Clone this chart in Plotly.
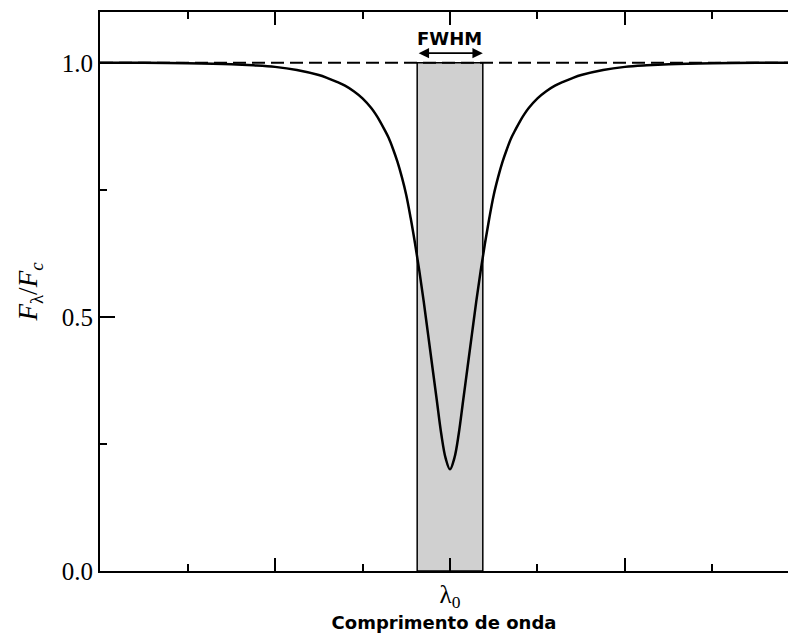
import plotly.graph_objects as go

# Line profile (wavelength in tick units, lambda0 = 0)
wl_half = [0, 0.05, 0.1, 0.15, 0.2, 0.25, 0.3, 0.35, 0.4, 0.45, 0.5, 0.55, 0.6, 0.65, 0.7,
           0.75, 0.8, 0.85, 0.9, 1.0, 1.1, 1.2, 1.3, 1.4, 1.5, 1.75, 2.0, 2.25, 2.5, 3.0, 3.5, 4.0]
flux_half = [0.200, 0.222, 0.27, 0.335, 0.40, 0.465, 0.53, 0.59, 0.645, 0.695, 0.74, 0.775, 0.805,
             0.83, 0.852, 0.869, 0.885, 0.899, 0.911, 0.93, 0.944, 0.955, 0.963, 0.97, 0.976,
             0.986, 0.992, 0.995, 0.997, 0.999, 1.0, 1.0]
# the profile is symmetric about lambda0
wavelength = [-w for w in wl_half[:0:-1]] + wl_half
flux = flux_half[:0:-1] + flux_half

continuum = 1.0
fwhm_left = -0.375
fwhm_right = 0.375
x_range = [-4, 3.863]
y_range = [0, 1.1]

x_major = [-2, 0, 2]
x_major_text = ["", "λ<sub>0</sub>", ""]
x_minor = [-3, -1, 1, 3]
y_major = [0, 0.5, 1.0]
y_major_text = ["0.0", "0.5", "1.0"]
y_minor = [0.25, 0.75]

fig = go.Figure()

# shaded FWHM box
fig.add_trace(go.Scatter(
    x=[fwhm_left, fwhm_right, fwhm_right, fwhm_left, fwhm_left],
    y=[0, 0, continuum, continuum, 0],
    fill="toself", fillcolor="#d0d0d0",
    line=dict(color="black", width=1.5),
    mode="lines", hoverinfo="skip", showlegend=False))

# continuum dashed line
fig.add_trace(go.Scatter(
    x=x_range, y=[continuum, continuum], mode="lines",
    line=dict(color="black", width=2, dash="13px,6px"),
    showlegend=False))

# profile
fig.add_trace(go.Scatter(
    x=wavelength, y=flux, mode="lines",
    line=dict(color="black", width=2.5, shape="spline", smoothing=1.0),
    showlegend=False))

# FWHM arrow + label
fig.add_annotation(x=fwhm_right, y=continuum + 0.019, ax=fwhm_left, ay=continuum + 0.019,
                   xref="x", yref="y", axref="x", ayref="y", text="",
                   showarrow=True, arrowhead=2, arrowside="end+start",
                   arrowsize=1.3, arrowwidth=1.6, arrowcolor="black", standoff=0, startstandoff=0)
fig.add_annotation(x=0, y=continuum + 0.047, xref="x", yref="y", text="<b>FWHM</b>",
                   showarrow=False, font=dict(family="DejaVu Sans", size=18, color="black"))

fig.update_layout(
    width=788, height=633,
    margin=dict(l=100, r=0, t=12, b=60),
    plot_bgcolor="white", paper_bgcolor="white",
    showlegend=False,
    xaxis=dict(
        range=x_range, showgrid=False, zeroline=False,
        showline=True, linecolor="black", linewidth=2, mirror="ticks",
        tickmode="array", tickvals=x_major, ticktext=x_major_text,
        ticks="inside", ticklen=13, tickwidth=1.5, tickcolor="black",
        minor=dict(tickmode="array", tickvals=x_minor, ticks="inside", ticklen=7,
                   tickwidth=1.5, tickcolor="black", showgrid=False),
        tickfont=dict(family="Liberation Serif", size=25, color="black"),
        title=dict(text="<b>Comprimento de onda</b>", standoff=8,
                   font=dict(family="DejaVu Sans", size=18, color="black")),
    ),
    yaxis=dict(
        range=y_range, showgrid=False, zeroline=False,
        showline=True, linecolor="black", linewidth=2, mirror=False,
        tickmode="array", tickvals=y_major, ticktext=y_major_text,
        ticks="inside", ticklen=15, tickwidth=1.5, tickcolor="black",
        minor=dict(tickmode="array", tickvals=y_minor, ticks="inside", ticklen=7,
                   tickwidth=1.5, tickcolor="black", showgrid=False),
        tickfont=dict(family="Liberation Serif", size=25, color="black"),
        title=dict(text="<i>F</i><sub>λ</sub>/<i>F</i><sub><i>c</i></sub>", standoff=16,
                   font=dict(family="Liberation Serif", size=27, color="black")),
    ),
)

fig.write_html("out.html")
